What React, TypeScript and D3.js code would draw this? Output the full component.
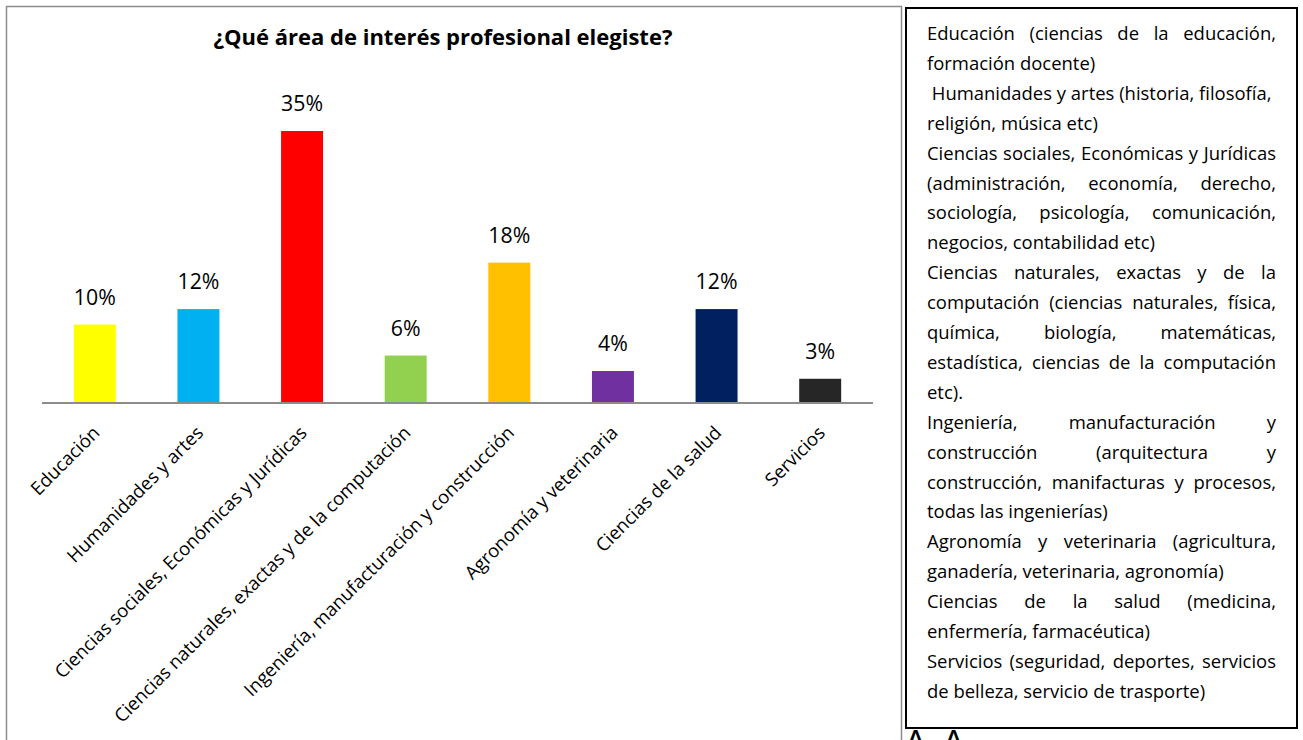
import React, { useMemo } from "react";
import * as d3 from "d3";

const title = "¿Qué área de interés profesional elegiste?";

const categories = [
  "Educación",
  "Humanidades y artes",
  "Ciencias sociales, Económicas y Jurídicas",
  "Ciencias naturales, exactas y de la computación",
  "Ingeniería, manufacturación y construcción",
  "Agronomía y veterinaria",
  "Ciencias de la salud",
  "Servicios",
];

const values = [10, 12, 35, 6, 18, 4, 12, 3];

const barColors = [
  "#FFFF00",
  "#00B0F0",
  "#FF0000",
  "#92D050",
  "#FFC000",
  "#7030A0",
  "#002060",
  "#262626",
];

// [text, justified]
const descriptionLines: [string, boolean][] = [
  ["Educación (ciencias de la educación,", true],
  ["formación docente)", false],
  [" Humanidades y artes (historia, filosofía,", false],
  ["religión, música etc)", false],
  ["Ciencias sociales, Económicas y Jurídicas", true],
  ["(administración, economía, derecho,", true],
  ["sociología, psicología, comunicación,", true],
  ["negocios, contabilidad etc)", false],
  ["Ciencias naturales, exactas y de la", true],
  ["computación (ciencias naturales, física,", true],
  ["química, biología, matemáticas,", true],
  ["estadística, ciencias de la computación", true],
  ["etc).", false],
  ["Ingeniería, manufacturación y", true],
  ["construcción (arquitectura y", true],
  ["construcción, manifacturas y procesos,", true],
  ["todas las ingenierías)", false],
  ["Agronomía y veterinaria (agricultura,", true],
  ["ganadería, veterinaria, agronomía)", false],
  ["Ciencias de la salud (medicina,", true],
  ["enfermería, farmacéutica)", false],
  ["Servicios (seguridad, deportes, servicios", true],
  ["de belleza, servicio de trasporte)", false],
];

const footerLetters = ["A", "A"];

const FAMILY = "Open Sans";
const FONT = "'Open Sans', Lato, sans-serif";
const W = 1303;
const H = 740;

const chart = { left: 43, right: 872, base: 402, top35: 131 };
const box = { x: 906, y: 8, w: 391, h: 720, textLeft: 927, textRight: 1276, firstBaseline: 40, lineStep: 29.9 };

function measurer(weight: number, size: number) {
  const canvas = document.createElement("canvas");
  const ctx = canvas.getContext("2d")!;
  ctx.font = `${weight} ${size}px '${FAMILY}'`;
  return (s: string) => ctx.measureText(s).width;
}

// font size so that a reference string spans a target width
function fitSize(sample: string, target: number, weight = 400) {
  const w = measurer(weight, 100)(sample);
  return (100 * target) / w;
}

export default function App() {
  const x = d3
    .scaleBand<string>()
    .domain(categories)
    .range([chart.left, chart.right])
    .paddingInner(0.595)
    .paddingOuter(0.2975);
  const y = d3.scaleLinear().domain([0, 35]).range([chart.base, chart.top35]);

  const sizes = useMemo(
    () => ({
      title: fitSize(title, 459, 700),
      value: fitSize("35%", 42),
      label: fitSize(categories[3], 410),
      desc: fitSize("Humanidades y artes (historia, filosofía,", 340),
    }),
    []
  );

  const layout = useMemo(() => {
    const measure = measurer(400, sizes.desc);
    const width = box.textRight - box.textLeft;
    return descriptionLines.map(([line, justify]) => {
      const lead = line.startsWith(" ") ? measure(" ") : 0;
      const words = line.trim().split(/\s+/);
      if (!justify || words.length < 2) {
        return [{ w: line.trim(), x: box.textLeft + lead }];
      }
      const widths = words.map(measure);
      const total = widths.reduce((a, b) => a + b, 0);
      const gap = (width - lead - total) / (words.length - 1);
      let cx = box.textLeft + lead;
      return words.map((w, i) => {
        const item = { w, x: cx };
        cx += widths[i] + gap;
        return item;
      });
    });
  }, [sizes]);

  return (
    <svg
      width={W}
      height={H}
      style={{ position: "absolute", left: 0, top: 0, background: "#fff" }}
      fontFamily={FONT}
    >
      <rect x={0} y={0} width={W} height={H} fill="#fff" />
      {/* chart frame */}
      <path d={`M6.5,${H + 2} V6.5 H901.5 V${H + 2}`} fill="none" stroke="#8c8c8c" strokeWidth={1.5} />
      <text x={443} y={45} textAnchor="middle" fontSize={sizes.title} fontWeight={700} fill="#000">
        {title}
      </text>
      {categories.map((c, i) => (
        <rect
          key={c}
          x={x(c)}
          y={y(values[i])}
          width={x.bandwidth()}
          height={chart.base - y(values[i])}
          fill={barColors[i]}
        />
      ))}
      <line x1={chart.left - 1} x2={chart.right + 1} y1={chart.base + 1} y2={chart.base + 1} stroke="#8c8c8c" strokeWidth={2} />
      {categories.map((c, i) => (
        <text
          key={"v" + c}
          x={x(c)! + x.bandwidth() / 2}
          y={y(values[i]) - 20}
          textAnchor="middle"
          fontSize={sizes.value}
          fill="#000"
        >
          {values[i]}%
        </text>
      ))}
      {categories.map((c) => {
        const cx = x(c)! + x.bandwidth() / 2;
        return (
          <text
            key={"l" + c}
            transform={`translate(${cx + 6},${chart.base + 32}) rotate(-45)`}
            textAnchor="end"
            fontSize={sizes.label}
            fill="#000"
          >
            {c}
          </text>
        );
      })}
      {/* description box */}
      <rect x={box.x} y={box.y} width={box.w} height={box.h} fill="#fff" stroke="#000" strokeWidth={2} />
      {layout.map((words, li) =>
        words.map((wd, wi) => (
          <text
            key={li + "-" + wi}
            x={wd.x}
            y={box.firstBaseline + li * box.lineStep}
            fontSize={sizes.desc}
            fill="#000"
          >
            {wd.w}
          </text>
        ))
      )}
      {footerLetters.map((l, i) => (
        <text key={"f" + i} x={907 + i * 38} y={748} fontSize={26} fontWeight={600} fill="#000">
          {l}
        </text>
      ))}
    </svg>
  );
}
